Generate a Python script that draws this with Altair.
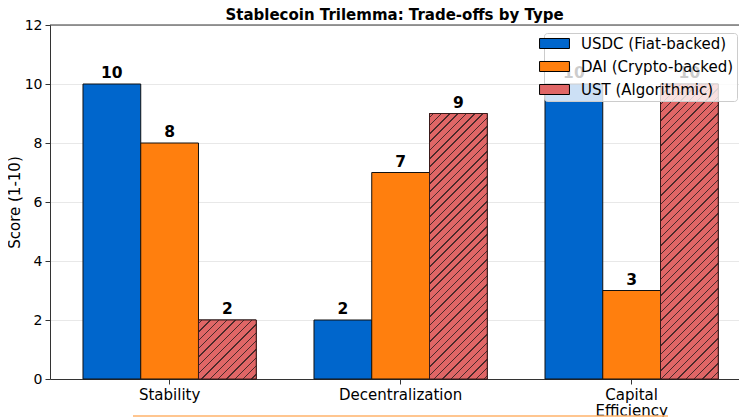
import altair as alt
import pandas as pd

# ---- data ----
categories = ["Stability", "Decentralization", "Capital Efficiency"]
series = ["USDC (Fiat-backed)", "DAI (Crypto-backed)", "UST (Algorithmic)"]
usdc = [10, 2, 10]
dai = [8, 7, 3]
ust = [2, 9, 10]
y_ticks = [0, 2, 4, 6, 8, 10, 12]
title_text = "Stablecoin Trilemma: Trade-offs by Type"
y_title = "Score (1-10)"

# ---- style ----
colors = ["#0066cc", "#ff7f0e", "#e06666"]
hatch_line = "#4a2a2a"
FONT = "DejaVu Sans"
W, H = 689, 354
Y_MAX = 12
pad_inner, pad_outer, band_align = 0.25, 0.1163, 0.614

rows = []
for s, vals in zip(series, [usdc, dai, ust]):
    for c, v in zip(categories, vals):
        rows.append({"category": c, "series": s, "score": v})
df = pd.DataFrame(rows)

step = W / (len(categories) - pad_inner + 2 * pad_outer)
bar_w = step * (1 - pad_inner) / len(series)
px_per_unit = H / Y_MAX


def hatch_fill(value, spacing=8.33, lw=1.4, phase=3.0):
    """Diagonal '/' hatch as a hard-stop linear gradient (style only)."""
    w = bar_w
    h = value * px_per_unit
    r = h / w
    s = (1 + r) / (1 + r * r)
    total = w + h
    stops = [{"offset": 0.0, "color": colors[2]}]
    d = phase
    while d < total:
        a = d / total
        b = min((d + lw) / total, 1.0)
        stops += [
            {"offset": a, "color": colors[2]},
            {"offset": a, "color": hatch_line},
            {"offset": b, "color": hatch_line},
            {"offset": b, "color": colors[2]},
        ]
        d += spacing
    stops.append({"offset": 1.0, "color": colors[2]})
    return {"gradient": "linear", "x1": 0, "y1": 0, "x2": s, "y2": s * r, "stops": stops}


x_enc = alt.X(
    "category:N",
    sort=categories,
    scale=alt.Scale(paddingInner=pad_inner, paddingOuter=pad_outer, align=band_align),
    axis=alt.Axis(
        title=None,
        labelAngle=0,
        labelExpr="split(datum.label, ' ')",
        labelFontSize=15,
        labelLineHeight=16,
        labelPadding=3,
        labelColor="#000000",
        tickSize=5,
        tickColor="#333333",
        domainColor="#333333",
        grid=False,
    ),
)
xoff = alt.XOffset("series:N", sort=series, scale=alt.Scale(domain=series, paddingInner=0, paddingOuter=0))
y_enc = alt.Y(
    "score:Q",
    scale=alt.Scale(domain=[0, Y_MAX], nice=False),
    axis=alt.Axis(
        values=y_ticks,
        title=y_title,
        titleFontSize=15,
        titleFontWeight="normal",
        titleColor="#000000",
        titlePadding=2,
        labelFontSize=14,
        labelColor="#000000",
        labelPadding=3,
        tickSize=5,
        tickColor="#333333",
        domainColor="#333333",
        gridColor="#e8e8e8",
    ),
)

base = alt.Chart(df)

bars = base.mark_bar(stroke="#111111", strokeWidth=1).encode(
    x=x_enc,
    xOffset=xoff,
    y=y_enc,
    color=alt.Color(
        "series:N",
        sort=series,
        scale=alt.Scale(domain=series, range=colors),
        legend=alt.Legend(
            title=None,
            orient="none",
            legendX=494,
            legendY=8,
            direction="vertical",
            labelFontSize=15,
            labelFont=FONT,
            labelColor="#000000",
            symbolType="M-2.3,-0.77L2.3,-0.77L2.3,0.77L-2.3,0.77Z",
            symbolSize=169,
            symbolStrokeColor="#000000",
            symbolStrokeWidth=1,
            symbolOpacity=1,
            rowPadding=7,
            labelOffset=19,
            padding=3,
            fillColor="rgba(255,255,255,0.8)",
            strokeColor="#cccccc",
            cornerRadius=3,
        ),
    ),
)

hatch_layers = []
for c, v in zip(categories, ust):
    hatch_layers.append(
        base.transform_filter(
            (alt.datum.series == series[2]) & (alt.datum.category == c)
        )
        .mark_bar(fill=hatch_fill(v), stroke="#3a1a1a", strokeWidth=1)
        .encode(x=x_enc, xOffset=xoff, y=y_enc)
    )

labels = base.mark_text(
    dy=-6, baseline="alphabetic", fontWeight="bold", fontSize=15.5, font=FONT, color="#000000"
).encode(x=x_enc, xOffset=xoff, y=y_enc, text=alt.Text("score:Q"))

one_row = base.transform_filter(alt.datum.series == series[0]).transform_filter(
    alt.datum.category == categories[0]
)
top_spine = one_row.mark_rule(color="#333333", strokeWidth=1).encode(
    x=alt.value(0), x2=alt.value(W), y=alt.value(0)
)
deco = one_row.mark_rule(color="#ffb36b", strokeWidth=1.5).encode(
    x=alt.value(83), x2=alt.value(618), y=alt.value(391)
)

chart = (
    alt.layer(bars, *hatch_layers, labels, top_spine, deco)
    .properties(
        width=W,
        height=H,
        title=alt.TitleParams(title_text, fontSize=15, fontWeight="bold", font=FONT, offset=-5, anchor="middle", color="#000000"),
        padding={"left": 42, "top": 17, "right": 0, "bottom": 40},
        autosize=alt.AutoSizeParams(type="none"),
    )
    .configure(font=FONT)
    .configure_view(strokeWidth=0)
    .configure_axis(labelFont=FONT, titleFont=FONT)
)

chart.save("out.html", embed_options={"renderer": "svg", "actions": False})
